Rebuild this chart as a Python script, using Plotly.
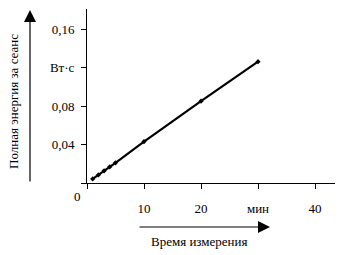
import plotly.graph_objects as go

# Data
time_min = [1, 2, 3, 4, 5, 10, 20, 30]
energy_ws = [0.0042, 0.0084, 0.0126, 0.0168, 0.021, 0.043, 0.085, 0.126]

x_tickvals = [0, 10, 20, 30, 40]
x_ticktext = ["", "10", "20", "мин", "40"]
y_tickvals = [0, 0.04, 0.08, 0.12, 0.16]
y_ticktext = ["", "0,04", "0,08", "Вт·с", "0,16"]

y_title = "Полная энергия за сеанс"
x_title = "Время измерения"
origin_label = "0"

FONT = dict(family="Liberation Serif, Times New Roman, serif", size=13, color="black")

fig = go.Figure()
fig.add_trace(go.Scatter(
    x=time_min, y=energy_ws, mode="lines+markers",
    line=dict(color="black", width=2.2),
    marker=dict(symbol="diamond", size=4, color="black"),
    cliponaxis=False, showlegend=False,
))

# plot area: x 87..335 px, y 9..183 px
L, R, T, B = 87, 335, 9, 183
W, H = R - L, B - T

def px(xp):
    return (xp - L) / W

def py(yp):
    return (B - yp) / H

fig.update_layout(
    width=342, height=255,
    margin=dict(l=L, r=342 - R, t=T, b=255 - B),
    paper_bgcolor="white", plot_bgcolor="white",
    font=FONT,
    xaxis=dict(range=[0, (R - L) / 5.7], showgrid=False, zeroline=False,
               showline=True, linecolor="black", linewidth=1,
               ticks="outside", ticklen=5, tickcolor="black", tickwidth=1,
               tickvals=x_tickvals, ticktext=x_ticktext,
               ticklabelstandoff=8, tickfont=FONT),
    yaxis=dict(range=[0, (B - T) / 962.5], showgrid=False, zeroline=False,
               showline=True, linecolor="black", linewidth=1,
               ticks="outside", ticklen=5, tickcolor="black", tickwidth=1,
               tickvals=y_tickvals, ticktext=y_ticktext,
               ticklabelstandoff=4, tickfont=FONT),
)

# origin label
fig.add_annotation(x=0, y=0, xref="x", yref="y", text=origin_label, showarrow=False,
                   xanchor="right", yanchor="top", xshift=-4, yshift=-4, font=FONT)

# y title + arrow
fig.add_annotation(x=px(13), y=py(102), xref="paper", yref="paper", text=y_title,
                   textangle=-90, showarrow=False, font=FONT,
                   xanchor="center", yanchor="middle")
fig.add_annotation(x=px(30), y=py(10), xref="paper", yref="paper", text="",
                   showarrow=True, ax=0, ay=173, axref="pixel", ayref="pixel",
                   arrowhead=2, arrowsize=2, arrowwidth=1.2, arrowcolor="black")

# x title + arrow
fig.add_annotation(x=px(199), y=py(241), xref="paper", yref="paper", text=x_title,
                   showarrow=False, font=FONT, xanchor="center", yanchor="middle")
fig.add_annotation(x=px(270), y=py(227), xref="paper", yref="paper", text="",
                   showarrow=True, ax=-132, ay=0, axref="pixel", ayref="pixel",
                   arrowhead=2, arrowsize=2, arrowwidth=1.2, arrowcolor="black")

fig.write_html("out.html")
